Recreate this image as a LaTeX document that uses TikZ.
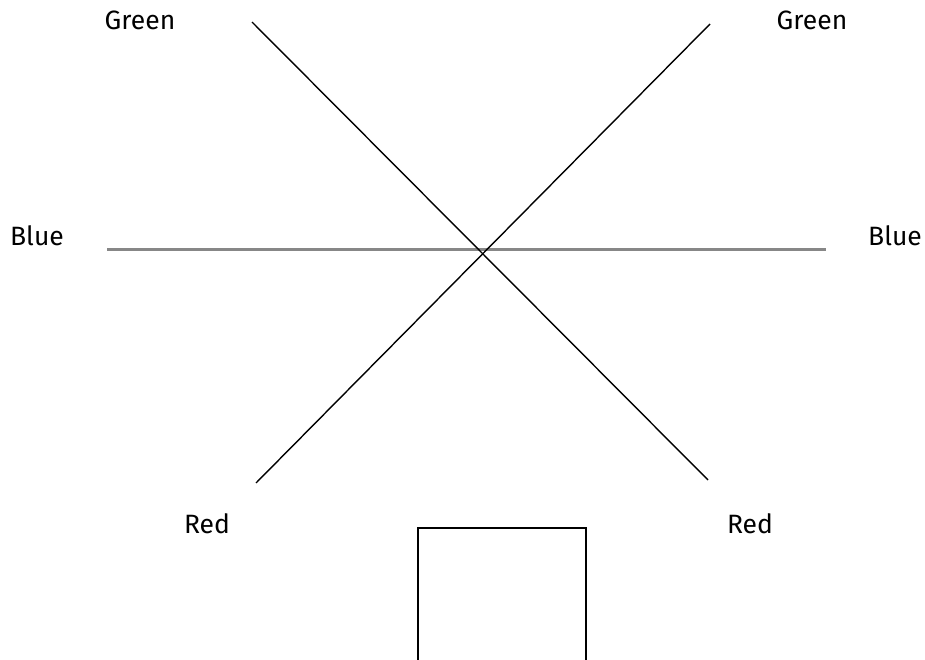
\documentclass[tikz,border=0pt]{standalone}
\usepackage{fontspec}
\setmainfont{Fira Sans}
\begin{document}
\begin{tikzpicture}[x=1pt,y=-1pt,
  lab/.style={font=\fontsize{26.5}{30}\selectfont, anchor=base, inner sep=0pt, text=black},
  diag/.style={line width=1.4pt, black},
  hline/.style={line width=3pt, color=black!47},
  box/.style={line width=1.6pt, black}]
\useasboundingbox (0,0) rectangle (925,660);
\node[lab] (gl) at (140,30) {Green};
\node[lab] (gr) at (812,30) {Green};
\node[lab] (bl) at (37,245) {Blue};
\node[lab] (br) at (895,245) {Blue};
\node[lab] (rl) at (207,533) {Red};
\node[lab] (rr) at (750,533) {Red};
\coordinate (a1) at (252,22);
\coordinate (a2) at (708,480);
\coordinate (c1) at (710,24);
\coordinate (c2) at (256,483);
\coordinate (h1) at (107,249);
\coordinate (h2) at (826,249);
\draw[hline] (h1) -- (h2);
\draw[diag] (a1) -- (a2);
\draw[diag] (c1) -- (c2);
\coordinate (s1) at (418,662);
\coordinate (s2) at (418,528);
\coordinate (s3) at (586,528);
\coordinate (s4) at (586,662);
\draw[box] (s1) -- (s2) -- (s3) -- (s4);
\end{tikzpicture}
\end{document}
